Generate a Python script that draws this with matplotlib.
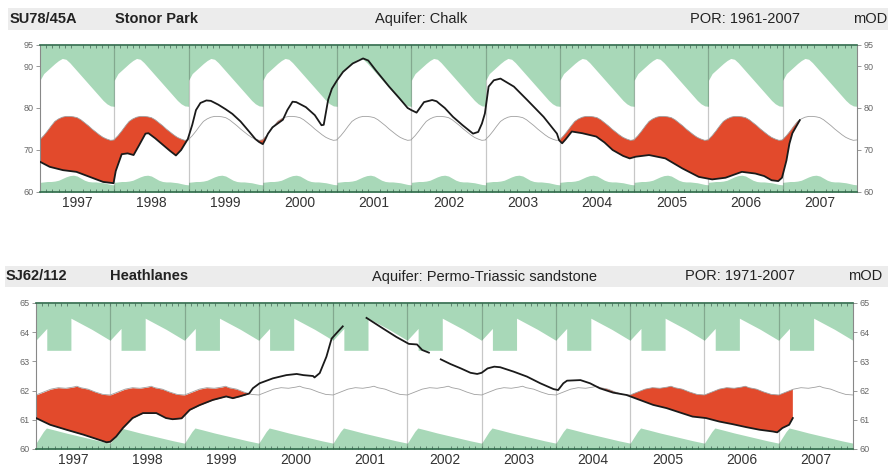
import numpy as np
import matplotlib
matplotlib.use("Agg")
import matplotlib.pyplot as plt
from matplotlib.patches import Rectangle

plt.rcParams['font.family'] = ['Liberation Sans', 'DejaVu Sans']

# ---------------- data ----------------
years = list(range(1997, 2008))
year_labels = [str(y) for y in years]

# Stonor Park (chalk) - seasonal envelopes, as fraction of year
top_frac = [0.0, 0.05, 0.1, 0.15, 0.2, 0.25, 0.3, 0.35, 0.4, 0.45, 0.5,
            0.55, 0.6, 0.65, 0.7, 0.75, 0.8, 0.85, 0.9, 0.95, 1.0]
top_max = [86.6, 88.2, 89.0, 89.8, 90.6, 91.3, 91.8, 91.6, 90.8, 89.8, 88.8,
           87.8, 86.8, 85.8, 84.8, 83.8, 82.8, 81.8, 81.0, 80.5, 80.4]
top_min = [62.3, 62.4, 62.5, 62.5, 62.6, 62.8, 63.2, 63.6, 63.9, 64.0, 63.8,
           63.3, 62.8, 62.5, 62.4, 62.4, 62.3, 62.2, 62.0, 61.8, 61.7]
top_mean = [72.5, 73.4, 74.5, 75.7, 76.8, 77.4, 77.8, 78.0, 78.0, 77.9, 77.7,
            77.2, 76.5, 75.8, 75.0, 74.3, 73.6, 73.0, 72.6, 72.3, 72.4]

top_t = [1997.0, 1997.13, 1997.31, 1997.49, 1997.67, 1997.85, 1997.99,
         1998.02, 1998.1, 1998.18, 1998.26, 1998.33, 1998.42, 1998.46, 1998.55,
         1998.65, 1998.75, 1998.83, 1998.9, 1998.99,
         1999.05, 1999.1, 1999.16, 1999.24, 1999.3, 1999.4, 1999.5, 1999.59,
         1999.7, 1999.82, 1999.9, 1999.95, 2000.0,
         2000.03, 2000.07, 2000.13, 2000.2, 2000.27, 2000.33, 2000.4, 2000.45,
         2000.58, 2000.7, 2000.79, 2000.82, 2000.88, 2000.93, 2001.0,
         2001.08, 2001.21, 2001.35, 2001.42, 2001.52, 2001.7, 2001.84, 2001.95,
         2002.0, 2002.07, 2002.17, 2002.28, 2002.34, 2002.38, 2002.45, 2002.56,
         2002.69, 2002.83, 2002.9, 2002.95, 2002.99,
         2003.04, 2003.11, 2003.2, 2003.38, 2003.56, 2003.78, 2003.96, 2003.99,
         2004.03, 2004.08, 2004.16, 2004.3, 2004.49, 2004.6, 2004.71, 2004.85, 2004.94,
         2005.02, 2005.2, 2005.42, 2005.65, 2005.87, 2006.05,
         2006.23, 2006.45, 2006.63, 2006.75, 2006.85, 2006.94, 2006.99,
         2007.05, 2007.09, 2007.13, 2007.23]
top_level = [67.2, 66.0, 65.2, 64.8, 63.6, 62.4, 62.1,
             65.0, 69.0, 69.2, 68.8, 71.0, 73.9, 74.0, 72.8,
             71.3, 69.8, 68.7, 70.0, 72.6,
             76.0, 79.5, 81.2, 81.8, 81.7, 80.8, 79.7, 78.6,
             76.8, 74.3, 72.6, 71.9, 71.4,
             72.4, 73.9, 75.4, 76.3, 77.2, 79.5, 81.5, 81.4,
             80.2, 78.3, 75.9, 76.0, 82.0, 84.6, 86.6,
             88.6, 90.6, 91.8, 91.3, 89.0, 85.1, 82.3, 80.0,
             79.5, 78.9, 81.4, 81.9, 81.6, 81.0, 80.0, 77.9,
             75.9, 73.9, 74.3, 76.3, 78.7,
             85.1, 86.6, 87.0, 85.1, 81.9, 77.9, 73.9, 72.3,
             71.6, 72.6, 74.4, 74.0, 73.2, 71.8, 70.0, 68.6, 68.0,
             68.4, 68.8, 68.0, 65.6, 63.6, 63.0,
             63.4, 64.8, 64.4, 63.8, 62.8, 62.6, 63.4,
             67.5, 71.5, 74.0, 77.1]

# Heathlanes (Permo-Triassic sandstone)
bot_max_frac = [0.0, 0.08, 0.145, 0.145, 0.47, 0.47, 0.75, 1.0]
bot_max = [63.73, 63.95, 64.13, 63.38, 63.38, 64.48, 64.1, 63.72]
bot_min_frac = [0.0, 0.05, 0.1, 0.14, 0.25, 0.4, 0.55, 0.7, 0.85, 1.0]
bot_min = [60.2, 60.4, 60.6, 60.72, 60.65, 60.55, 60.46, 60.37, 60.28, 60.2]
bot_mean_frac = [0.0, 0.1, 0.2, 0.3, 0.4, 0.5, 0.55, 0.6, 0.7, 0.8, 0.9, 1.0]
bot_mean = [61.85, 61.95, 62.05, 62.1, 62.08, 62.12, 62.15, 62.1, 62.05, 61.95, 61.87, 61.85]

bot_t = [1997.0, 1997.19, 1997.41, 1997.64, 1997.82, 1997.95, 1998.0,
         1998.08, 1998.17, 1998.3, 1998.44, 1998.62, 1998.75, 1998.84, 1998.96,
         1999.07, 1999.2, 1999.38, 1999.56, 1999.65, 1999.74, 1999.87,
         1999.92, 2000.01, 2000.19, 2000.37, 2000.51, 2000.6, 2000.73, 2000.75,
         2000.82, 2000.91, 2000.98, 2001.04, 2001.13,
         2001.2,
         2001.45, 2001.67, 2001.85, 2002.02, 2002.13, 2002.2, 2002.29,
         2002.37,
         2002.45, 2002.58, 2002.72, 2002.85, 2002.94, 2003.0, 2003.08, 2003.17,
         2003.25, 2003.43, 2003.61, 2003.79, 2003.97, 2004.03, 2004.1, 2004.15,
         2004.33, 2004.46, 2004.59, 2004.77, 2004.95, 2005.13, 2005.31, 2005.49,
         2005.67, 2005.84, 2006.02, 2006.2, 2006.38, 2006.56, 2006.74, 2006.92,
         2006.98, 2007.05, 2007.14, 2007.19]
bot_level = [61.06, 60.83, 60.66, 60.49, 60.34, 60.23, 60.25,
             60.43, 60.72, 61.06, 61.23, 61.23, 61.06, 61.02, 61.05,
             61.34, 61.5, 61.68, 61.8, 61.74, 61.8, 61.9,
             62.08, 62.25, 62.42, 62.53, 62.57, 62.53, 62.5, 62.45,
             62.6, 63.16, 63.78, 63.95, 64.2,
             np.nan,
             64.49, 64.13, 63.84, 63.6, 63.58, 63.39, 63.3,
             np.nan,
             63.07, 62.91, 62.76, 62.61, 62.57, 62.61, 62.76, 62.82,
             62.8, 62.65, 62.48, 62.25, 62.05, 62.02, 62.25, 62.34,
             62.36, 62.25, 62.08, 61.93, 61.85, 61.68, 61.51, 61.4,
             61.25, 61.11, 61.06, 60.94, 60.85, 60.75, 60.66, 60.6,
             60.57, 60.72, 60.83, 61.06]

GREEN = '#a8d8b8'
RED = '#e24a2c'


def tile(frac, vals):
    x = np.concatenate([y + np.asarray(frac) for y in years])
    v = np.tile(vals, len(years))
    return x, v


def red_fill(ax, t, lev, mx, my):
    t = np.asarray(t, float)
    lev = np.asarray(lev, float)
    ok = ~np.isnan(lev)
    # split into contiguous segments
    idx = np.where(ok)[0]
    breaks = np.where(np.diff(idx) > 1)[0]
    for seg in np.split(idx, breaks + 1):
        ts, ls = t[seg], lev[seg]
        inner = mx[(mx > ts[0]) & (mx < ts[-1])]
        xs = np.union1d(ts, inner)
        ly = np.interp(xs, ts, ls)
        my_s = np.interp(xs, mx, my)
        ax.fill_between(xs, ly, my_s, where=ly < my_s, interpolate=True,
                        color=RED, lw=0, zorder=2)


def panel(ax, ylo, yhi, yticks, maxx, maxv, minx, minv, meanx, meanv, t, lev):
    ax.fill_between(maxx, maxv, yhi, color=GREEN, lw=0, zorder=1)
    ax.fill_between(minx, ylo, minv, color=GREEN, lw=0, zorder=1)
    for y in years[1:]:
        ax.axvline(y, color='black', alpha=0.22, lw=0.9, zorder=1.5)
    red_fill(ax, t, lev, meanx, meanv)
    ax.plot(meanx, meanv, color='#a0a0a0', lw=0.6, zorder=2.5)
    ax.plot(t, lev, color='#1a1a1a', lw=1.3, zorder=3)

    ax.set_xlim(1997, 2008)
    ax.set_ylim(ylo, yhi)
    ax.set_xticks([y + 0.5 for y in years])
    ax.set_xticklabels(year_labels, fontsize=10, color='#333333')
    ax.set_xticks(1997 + np.arange(1, 132) / 12.0, minor=True)
    ax.tick_params(axis='x', which='major', length=0, pad=3)
    ax.tick_params(axis='x', which='minor', direction='in', length=2.5,
                   top=True, bottom=True, color='#557766', width=0.6)
    ax.set_yticks(yticks)
    ax.tick_params(axis='y', which='major', direction='out', length=3,
                   left=True, right=True, labelleft=True, labelright=True,
                   labelsize=6.5, labelcolor='#666666', color='#888888',
                   width=0.6, pad=1.5)
    for s in ['top', 'bottom']:
        ax.spines[s].set_color('#2f6a4a')
        ax.spines[s].set_linewidth(1.2)
    for s in ['left', 'right']:
        ax.spines[s].set_color('#888888')
        ax.spines[s].set_linewidth(0.8)
    ax.set_facecolor('white')


fig = plt.figure(figsize=(8.88, 4.70), dpi=100)
W, H = 888.0, 470.0


def header(y0, y1, x0, items):
    fig.add_artist(Rectangle((x0 / W, 1 - y1 / H), 1 - x0 / W, (y1 - y0) / H,
                             transform=fig.transFigure, color='#ececec', lw=0))
    yc = 1 - (y0 + y1) / 2 / H
    for x, s, bold in items:
        fig.text(x / W, yc, s, fontsize=10.5, va='center', ha='left',
                 color='#222222', fontweight='bold' if bold else 'normal')


header(8, 30, 8, [(10, 'SU78/45A', True), (115, 'Stonor Park', True),
                  (375, 'Aquifer: Chalk', False), (690, 'POR: 1961-2007', False),
                  (853, 'mOD', False)])
header(266, 287, 5, [(6, 'SJ62/112', True), (110, 'Heathlanes', True),
                     (372, 'Aquifer: Permo-Triassic sandstone', False),
                     (685, 'POR: 1971-2007', False), (848, 'mOD', False)])

ax1 = fig.add_axes([40 / W, 1 - 192 / H, 817 / W, 147 / H])
mx, mv = tile(top_frac, top_max)
nx, nv = tile(top_frac, top_min)
ax_, av = tile(top_frac, top_mean)
panel(ax1, 60, 95, [60, 70, 80, 90, 95], mx, mv, nx, nv, ax_, av, top_t, top_level)

ax2 = fig.add_axes([36 / W, 1 - 449 / H, 817 / W, 146 / H])
mx, mv = tile(bot_max_frac, bot_max)
nx, nv = tile(bot_min_frac, bot_min)
ax_, av = tile(bot_mean_frac, bot_mean)
panel(ax2, 60, 65, [60, 61, 62, 63, 64, 65], mx, mv, nx, nv, ax_, av, bot_t, bot_level)

fig.savefig('out.png', dpi=100)
